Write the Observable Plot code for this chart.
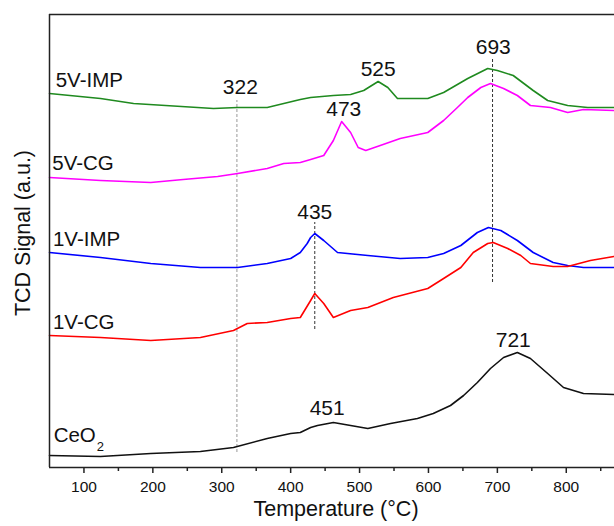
<!DOCTYPE html>
<html><head><meta charset="utf-8">
<script src="https://cdn.jsdelivr.net/npm/d3@7"></script>
<script src="https://cdn.jsdelivr.net/npm/@observablehq/plot@0.6"></script>
<style>body{margin:0;background:#fff;} svg{display:block;}</style>
</head><body><div id="chart"></div>
<script>
// Temperatures (°C) and TCD signal (a.u.)
const temp5VIMP = [50,124,172,288,323,366,414,429,462,487,506,527,541,555,599,622,657,686,700,723,752,773,802,831,869];
const sig5VIMP  = [374,369,364,359,360,360,368,370,372,373,377,386,380,369,369,375,389,399,397,392,377,367,362,360,360];
const temp5VCG  = [50,124,197,244,294,323,366,390,414,429,448,462,474,487,498,509,530,559,599,622,642,657,676,690,709,729,748,777,802,825,869];
const sig5VCG   = [290,287,285,288,291,294,299,304,305,308,312,327,346,335,320,317,322,329,335,347,360,370,380,384,379,372,362,360,355,358,357];
const temp1VIMP = [50,124,197,269,323,366,400,414,424,429,435,448,468,512,559,599,622,647,671,687,705,729,752,781,802,825,869];
const sig1VIMP  = [215,210,204,200,200,204,209,215,224,230,234,227,215,212,209,210,214,222,235,240,237,227,215,205,202,200,200];
const temp1VCG  = [50,124,197,269,317,337,366,400,414,429,435,448,462,487,512,549,599,622,647,665,686,694,715,734,748,781,802,835,869];
const sig1VCG   = [132,130,127,130,137,144,145,149,150,167,174,164,150,157,160,170,179,189,200,215,224,225,219,212,204,201,201,207,211];
const tempCeO2  = [50,124,197,269,317,366,400,414,429,439,462,487,512,545,584,607,632,651,671,690,709,729,748,773,796,825,869];
const sigCeO2   = [12,11,14,16,20,29,34,35,40,42,45,42,39,44,49,54,62,72,85,99,110,115,109,94,80,74,73];

const seriesNames  = ["5V-IMP","5V-CG","1V-IMP","1V-CG","CeO"];
const seriesColors = ["#1f8a1f","#ff00ff","#0000ff","#ff0000","#111111"];
const seriesLabelX = [59,54,55,55,56];
const seriesLabelY = [387,304,228,145,32];

// peak annotations
const peakText = ["322","525","693","473","435","721","451"];
const peakX    = [327,527,694,477,435,723,453];
const peakY    = [380,398,420,358,255,127,59];

// dashed guide lines
const guideT   = [322,435,693];
const guideTop = [367,245,409];
const guideBot = [15,138,185];
const guideCol = ["#999999","#333333","#333333"];

const majorTicks = [100,200,300,400,500,600,700,800];
const minorTicks = [150,250,350,450,550,650,750,850];

const temps = [temp5VIMP,temp5VCG,temp1VIMP,temp1VCG,tempCeO2];
const sigs  = [sig5VIMP,sig5VCG,sig1VIMP,sig1VCG,sigCeO2];
const rows = [];
temps.forEach((ts,i)=>ts.forEach((t,j)=>rows.push({series:i, t, s:sigs[i][j]})));

const guides = guideT.map((t,i)=>({t, y1:guideBot[i], y2:guideTop[i], c:guideCol[i]}));
const peaks = peakText.map((p,i)=>({p, x:peakX[i], y:peakY[i]}));
const labels = seriesNames.map((n,i)=>({n, x:seriesLabelX[i], y:seriesLabelY[i]}));

const font = "Liberation Sans, Arial, Helvetica, sans-serif";
const chart = Plot.plot({
  width: 614, height: 526,
  marginLeft: 49, marginRight: 0, marginTop: 14, marginBottom: 59,
  style: {fontFamily: font, background: "#fff", color: "#111"},
  x: {domain: [50, 870]},
  y: {domain: [0, 453], axis: null},
  marks: [
    Plot.ruleX(guides, {x:"t", y1:"y1", y2:"y2", stroke:"c", strokeDasharray:"3,2", strokeWidth:1}),
    ...[0,1,2,3,4].map(i => Plot.line(rows.filter(r=>r.series===i), {x:"t", y:"s", stroke: seriesColors[i], strokeWidth:1.6})),
    Plot.text(peaks, {x:"x", y:"y", text:"p", fontSize:21, fill:"#111"}),
    Plot.text(labels, {x:"x", y:"y", text:"n", fontSize:20.5, textAnchor:"start", fill:"#111"}),
    Plot.text(["2"], {x:()=>56, y:()=>32, fontSize:13, textAnchor:"start", dx:43, dy:11, fill:"#111"}),
    Plot.ruleY([0], {stroke:"#222", strokeWidth:1.5}),
    Plot.ruleY([453], {stroke:"#222", strokeWidth:1.5}),
    Plot.ruleX([50], {stroke:"#222", strokeWidth:1.5}),
    Plot.axisX(majorTicks, {tickSize:6, tickPadding:7, fontSize:15.5, label:null, stroke:"#222", strokeWidth:1.5}),
    Plot.axisX(minorTicks, {tickSize:4, tickFormat:()=>"", label:null, stroke:"#222", strokeWidth:1.5}),
    Plot.text(["Temperature (°C)"], {frameAnchor:"bottom", dy:48, dx:4, fontSize:21.5, fill:"#111"}),
    Plot.text(["TCD Signal (a.u.)"], {frameAnchor:"left", textAnchor:"middle", dx:-26, dy:-8, rotate:-90, fontSize:21.5, fill:"#111"})
  ]
});
document.getElementById("chart").appendChild(chart);
</script>
</body></html>
